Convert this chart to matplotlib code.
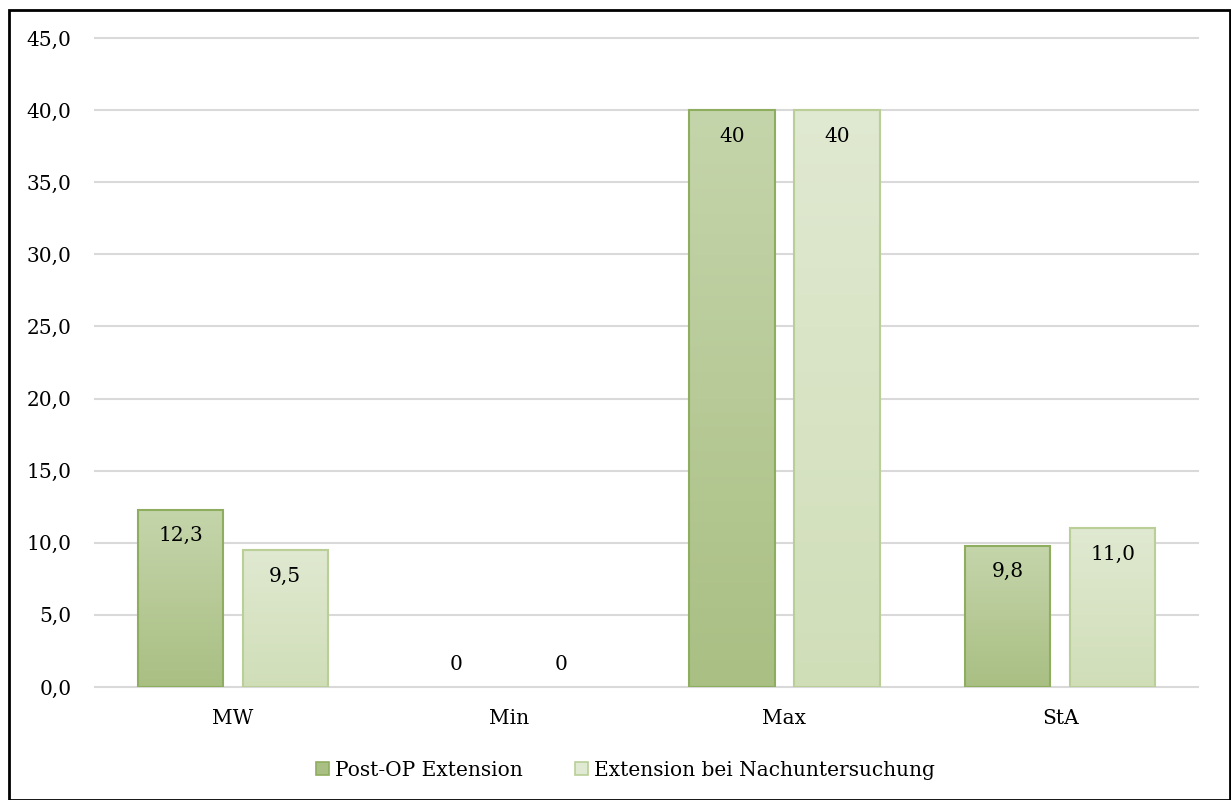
import numpy as np
import matplotlib
matplotlib.use("Agg")
import matplotlib.pyplot as plt
from matplotlib.patches import Rectangle, Patch
from matplotlib.colors import LinearSegmentedColormap

categories = ["MW", "Min", "Max", "StA"]
series_names = ["Post-OP Extension", "Extension bei Nachuntersuchung"]
post_op = [12.3, 0, 40, 9.8]
nachunters = [9.5, 0, 40, 11.0]
label_post = ["12,3", "0", "40", "9,8"]
label_nach = ["9,5", "0", "40", "11,0"]
yticks = [0, 5, 10, 15, 20, 25, 30, 35, 40, 45]

plt.rcParams['font.family'] = ['DejaVu Serif']
FS = 14.5
fig = plt.figure(figsize=(12.31, 8), dpi=100)
ax = fig.add_axes([0.0772, 0.14125, 0.896, 0.81125])

x = np.arange(len(categories))
width = 0.31
offset = 0.19

styles = [
    dict(top="#c5d5ab", bottom="#a9bf83", edge="#8fad5e"),
    dict(top="#e0e9d1", bottom="#d0deb8", edge="#b9cf97"),
]

ax.set_xlim(-0.5, 3.5)
ax.set_ylim(0, 45)

for i, (vals, labs) in enumerate([(post_op, label_post), (nachunters, label_nach)]):
    st = styles[i]
    cmap = LinearSegmentedColormap.from_list("g%d" % i, [st["bottom"], st["top"]])
    pos = x + (-offset if i == 0 else offset)
    bars = ax.bar(pos, vals, width, color="none", edgecolor=st["edge"], linewidth=1.5, zorder=3,
                  label=series_names[i])
    for b, v, lab in zip(bars, vals, labs):
        if v > 0:
            grad = np.linspace(0, 1, 256).reshape(-1, 1)
            im = ax.imshow(grad, cmap=cmap, origin="lower", aspect="auto",
                           extent=[b.get_x(), b.get_x() + b.get_width(), 0, v], zorder=2)
            im.set_clip_path(b)
            ax.annotate(lab, (b.get_x() + b.get_width() / 2, v), xytext=(0, -12),
                        textcoords="offset points", ha="center", va="top", fontsize=FS, zorder=4)
        else:
            b.set_edgecolor("none")
            ax.annotate(lab, (b.get_x() + b.get_width() / 2, 0), xytext=(0, 9),
                        textcoords="offset points", ha="center", va="bottom", fontsize=FS, zorder=4)

ax.set_xlim(-0.5, 3.5)
ax.set_ylim(0, 45)
ax.set_yticks(yticks)
ax.set_yticklabels([f"{t:.1f}".replace(".", ",") for t in yticks], fontsize=FS)
ax.set_xticks(x)
ax.set_xticklabels(categories, fontsize=FS)
ax.tick_params(axis="y", length=0, pad=17)
ax.tick_params(axis="x", length=0, pad=16)
ax.grid(axis="y", color="#d9d9d9", linewidth=1.5, zorder=0)
ax.set_axisbelow(True)
for gl in ax.get_ygridlines():
    gl.set_clip_on(False)
for s in ax.spines.values():
    s.set_visible(False)

handles = [Patch(facecolor=styles[0]["bottom"], edgecolor=styles[0]["edge"], linewidth=1.2),
           Patch(facecolor=styles[1]["top"], edgecolor=styles[1]["edge"], linewidth=1.2)]
fig.legend(handles, series_names, loc="center", bbox_to_anchor=(0.508, 0.0375), ncol=2,
           frameon=False, fontsize=FS, handlelength=0.65, handleheight=0.65,
           handletextpad=0.3, columnspacing=2.6)

fig.add_artist(Rectangle((9 / 1231, 0.5 / 800), 1221 / 1231, 790 / 800, transform=fig.transFigure,
                         fill=False, edgecolor="black", linewidth=2))

fig.savefig("out.png", dpi=100)
